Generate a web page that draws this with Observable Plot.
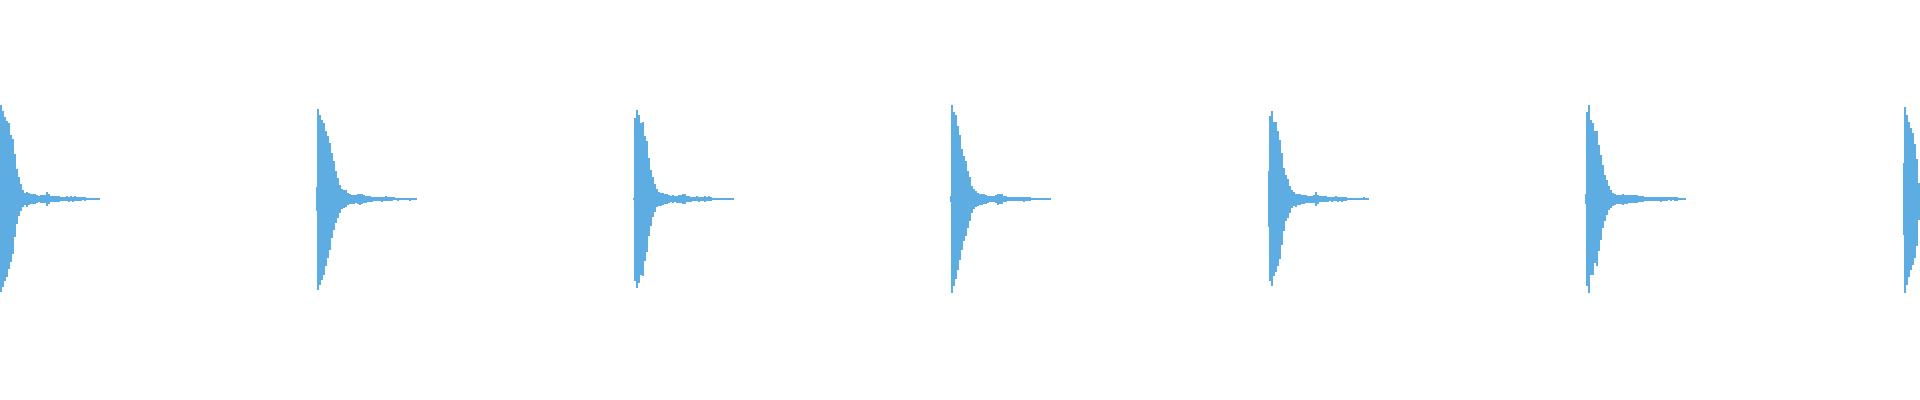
<!DOCTYPE html>
<html>
<head>
<meta charset="utf-8">
<script src="https://cdn.jsdelivr.net/npm/d3@7"></script>
<script src="https://cdn.jsdelivr.net/npm/@observablehq/plot@0.6"></script>
<style>html,body{margin:0;padding:0;background:#fff;overflow:hidden}</style>
</head>
<body>
<div id="chart"></div>
<script>
// Onset time of each hit (ms)
const burstStart = [0, 317, 634, 951, 1269, 1586, 1904];
// Amplitude (% of full scale) of the single sample column just before each onset
const leadIn = [0, 12, 1, 3, 28, 5, 36];
// Envelope per hit, one value per 2 ms: positive peak and negative peak (% of full scale)
const hit1Top = [94,88,82,78,76,64,60,45,30,22,15,9,6,7,6,5,5,5,4,3,4,4,4,7,5,3,3,3,3,3,2,2,2,3,2,3,2,3,2,2,2,2,2,1,1,1,1,1,1,1];
const hit1Bot = [93,88,82,78,70,63,55,38,25,17,12,8,6,8,6,5,5,5,4,3,4,4,4,7,5,3,3,3,3,3,2,2,2,2,3,2,3,2,2,2,2,1,2,1,1,1,1,1,1,1];
const hit2Top = [90,84,79,76,68,63,56,46,38,28,21,14,10,9,9,6,5,4,4,4,5,5,5,4,3,3,3,2,2,2,2,2,2,2,3,2,2,2,2,1,1,1,1,1,1,1,1,1,1,1];
const hit2Bot = [91,86,81,76,67,59,51,39,31,24,19,14,10,9,8,6,5,5,5,4,5,6,5,4,4,3,3,3,2,2,2,2,3,2,2,2,2,2,1,1,2,1,1,1,1,1,2,1,1,1];
const hit3Top = [81,89,84,76,77,63,58,41,29,22,15,10,7,6,6,5,5,4,3,4,3,3,4,4,5,5,3,3,2,2,2,3,2,2,2,3,2,3,2,1,1,1,1,1,1,1,1,1,1,1];
const hit3Bot = [82,89,84,76,77,62,53,37,27,18,13,8,7,7,6,5,5,4,3,4,3,4,4,4,5,5,3,3,3,2,2,2,3,2,2,3,2,2,2,1,1,1,1,1,1,1,1,1,1,1];
const hit4Top = [94,87,84,73,64,50,43,38,28,22,13,10,8,6,5,5,5,4,3,3,3,3,4,5,5,5,3,3,2,2,2,2,2,2,2,2,2,2,2,2,1,1,1,1,1,1,1,1,1,1];
const hit4Bot = [94,87,80,71,61,51,42,37,29,22,14,10,8,7,6,6,5,5,4,3,3,3,4,6,5,5,3,3,2,2,2,2,2,2,2,2,3,2,2,2,1,1,1,1,1,1,1,1,1,1];
const hit5Top = [83,88,77,77,68,59,46,31,24,20,13,9,7,5,5,5,4,4,4,3,3,3,4,7,4,3,3,3,3,2,2,2,2,3,2,2,2,2,2,1,1,1,1,1,1,1,1,2,1,1];
const hit5Bot = [82,87,77,73,67,60,46,32,22,19,14,9,7,8,6,6,5,5,4,4,4,4,4,7,5,3,3,3,3,3,2,3,2,2,3,2,3,2,2,1,1,1,1,1,1,1,1,1,1,1];
const hit6Top = [87,94,79,76,68,68,54,44,34,24,19,13,9,6,5,4,4,4,5,4,4,4,4,4,4,4,3,3,3,2,2,2,2,2,2,2,2,2,2,2,2,2,2,2,2,2,1,1,1,1];
const hit6Bot = [87,94,76,76,64,67,52,41,29,22,16,11,9,7,6,5,5,5,6,5,5,4,4,4,4,4,3,3,3,2,2,2,2,2,2,2,2,3,2,2,2,1,2,1,2,2,1,1,1,1];
const hit7Top = [92,84,77,71,66,55,40,16];
const hit7Bot = [94,86,78,71,66,59,47,21];

const tops = [hit1Top, hit2Top, hit3Top, hit4Top, hit5Top, hit6Top, hit7Top];
const bots = [hit1Bot, hit2Bot, hit3Bot, hit4Bot, hit5Bot, hit6Bot, hit7Bot];
const step = 2;

const rows = [];
burstStart.forEach((t, b) => {
  if (leadIn[b] > 0) rows.push({t0: t - 1, t1: t, hi: leadIn[b] / 100, lo: -leadIn[b] / 100});
  tops[b].forEach((v, i) => {
    rows.push({t0: t + i * step, t1: t + (i + 1) * step, hi: v / 100, lo: -bots[b][i] / 100});
  });
});

const chart = Plot.plot({
  width: 1920,
  height: 400,
  marginTop: 0,
  marginRight: 0,
  marginLeft: 0,
  marginBottom: 2,
  style: {background: "#fff"},
  x: {domain: [0, 1920], axis: null},
  y: {domain: [-2, 2], axis: null},
  marks: [
    Plot.rect(rows, {x1: "t0", x2: "t1", y1: "lo", y2: "hi", fill: "#5dade2", shapeRendering: "crispEdges", clip: true})
  ]
});
document.getElementById("chart").appendChild(chart);
</script>
</body>
</html>
